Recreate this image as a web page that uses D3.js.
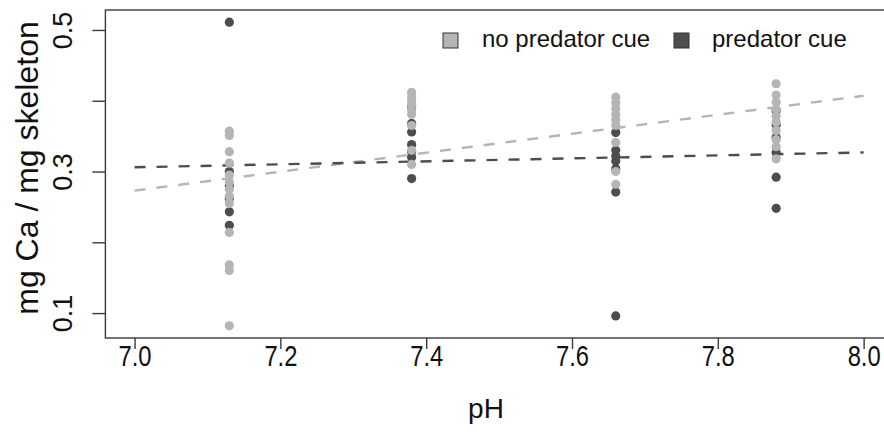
<!DOCTYPE html>
<html><head><meta charset="utf-8">
<script src="https://cdn.jsdelivr.net/npm/d3@7"></script>
<style>body{margin:0;background:#fff}svg{display:block}text{font-family:"Liberation Sans",Arial,sans-serif}</style>
</head><body>
<svg id="c" width="884" height="445"></svg>
<script>
// pH levels
const phLevels = [7.13, 7.38, 7.66, 7.88];
// mg Ca / mg skeleton, no predator cue (light)
const noCue = [
  [0.357, 0.351, 0.328, 0.312, 0.295, 0.285, 0.275, 0.265, 0.255, 0.214, 0.168, 0.160, 0.082],
  [0.412, 0.406, 0.400, 0.394, 0.387, 0.381, 0.365, 0.330, 0.310],
  [0.405, 0.397, 0.389, 0.381, 0.373, 0.365, 0.341, 0.300, 0.282],
  [0.424, 0.408, 0.398, 0.388, 0.378, 0.370, 0.358, 0.345, 0.335, 0.318]
];
// predator cue (dark)
const cue = [
  [0.511, 0.300, 0.280, 0.262, 0.243, 0.224],
  [0.392, 0.368, 0.356, 0.338, 0.328, 0.320, 0.290],
  [0.355, 0.330, 0.322, 0.315, 0.304, 0.271, 0.096],
  [0.386, 0.366, 0.348, 0.327, 0.292, 0.248]
];
// fitted lines: [pH, value] at ends
const fitNoCue = [[7.0, 0.273], [8.0, 0.407]];
const fitCue = [[7.0, 0.306], [8.0, 0.327]];
const xTicks = [7.0, 7.2, 7.4, 7.6, 7.8, 8.0];
const yTicks = [0.1, 0.2, 0.3, 0.4, 0.5];
const yTickLabels = ["0.1", "", "0.3", "", "0.5"];
const legendLabels = ["no predator cue", "predator cue"];
const colors = {light: "#b5b5b5", dark: "#4d4d4d"};

const svg = d3.select("#c");
const L = 105.4, T = 10, B = 338;
const x = d3.scaleLinear().domain([6.96, 8.04]).range([L, 892.8]);
const y = d3.scaleLinear().domain([0.0648, 0.5282]).range([B, T]);

// fitted lines
const line = d3.line().x(d => x(d[0])).y(d => y(d[1]));
svg.append("path").attr("d", line(fitNoCue)).attr("fill", "none")
  .attr("stroke", colors.light).attr("stroke-width", 2.4).attr("stroke-dasharray", "11,11");
svg.append("path").attr("d", line(fitCue)).attr("fill", "none")
  .attr("stroke", colors.dark).attr("stroke-width", 2.4).attr("stroke-dasharray", "11,11");

function pts(arr, col) {
  const flat = [];
  arr.forEach((vals, i) => vals.forEach(v => flat.push([phLevels[i], v])));
  svg.append("g").selectAll("circle").data(flat).join("circle")
    .attr("cx", d => x(d[0])).attr("cy", d => y(d[1])).attr("r", 4.6).attr("fill", col);
}
pts(cue, colors.dark);
pts(noCue, colors.light);

// box
svg.append("rect").attr("x", L).attr("y", T).attr("width", 892.8 - L).attr("height", B - T)
  .attr("fill", "none").attr("stroke", "#3a3a3a").attr("stroke-width", 1.4);

// x axis
const xa = svg.append("g").attr("transform", `translate(0,${B})`)
  .call(d3.axisBottom(x).tickValues(xTicks).tickFormat(d3.format(".1f")).tickSize(11));
xa.select(".domain").remove();
xa.selectAll("line").attr("stroke", "#3a3a3a").attr("stroke-width", 1.4);
xa.selectAll("text").attr("font-size", 27).attr("fill", "#111")
  .attr("font-family", "Liberation Sans, Arial, sans-serif")
  .attr("y", 0).attr("dy", 0)
  .attr("transform", "translate(0,28) scale(0.88,1.08)");

// y axis
const ya = svg.append("g").attr("transform", `translate(${L},0)`)
  .call(d3.axisLeft(y).tickValues(yTicks).tickFormat((d, i) => yTickLabels[i]).tickSize(13));
ya.select(".domain").remove();
ya.selectAll("line").attr("stroke", "#3a3a3a").attr("stroke-width", 1.4);
ya.selectAll("text").attr("font-size", 27).attr("fill", "#111")
  .attr("font-family", "Liberation Sans, Arial, sans-serif")
  .attr("transform", "rotate(-90)").attr("x", 0).attr("y", -41)
  .attr("dy", 0).attr("text-anchor", "middle").attr("dominant-baseline", "middle");

// axis titles
svg.append("text").attr("x", 486).attr("y", 418).attr("text-anchor", "middle")
  .attr("font-size", 28).attr("fill", "#111").text("pH");
svg.append("text").attr("transform", `translate(30,${168}) rotate(-90)`)
  .attr("text-anchor", "middle").attr("dominant-baseline", "middle")
  .attr("font-size", 32).attr("fill", "#111").text("mg Ca / mg skeleton");

// legend
const lg = svg.append("g");
const legendItems = [
  {label: legendLabels[0], col: colors.light, sx: 443, tx: 482},
  {label: legendLabels[1], col: colors.dark, sx: 674, tx: 712}
];
legendItems.forEach(it => {
  lg.append("rect").attr("x", it.sx).attr("y", 33).attr("width", 15).attr("height", 15)
    .attr("fill", it.col).attr("stroke", "#333").attr("stroke-width", 1);
  lg.append("text").attr("x", it.tx).attr("y", 41).attr("dominant-baseline", "middle")
    .attr("font-size", 24).attr("fill", "#111").text(it.label);
});
</script>
</body></html>
